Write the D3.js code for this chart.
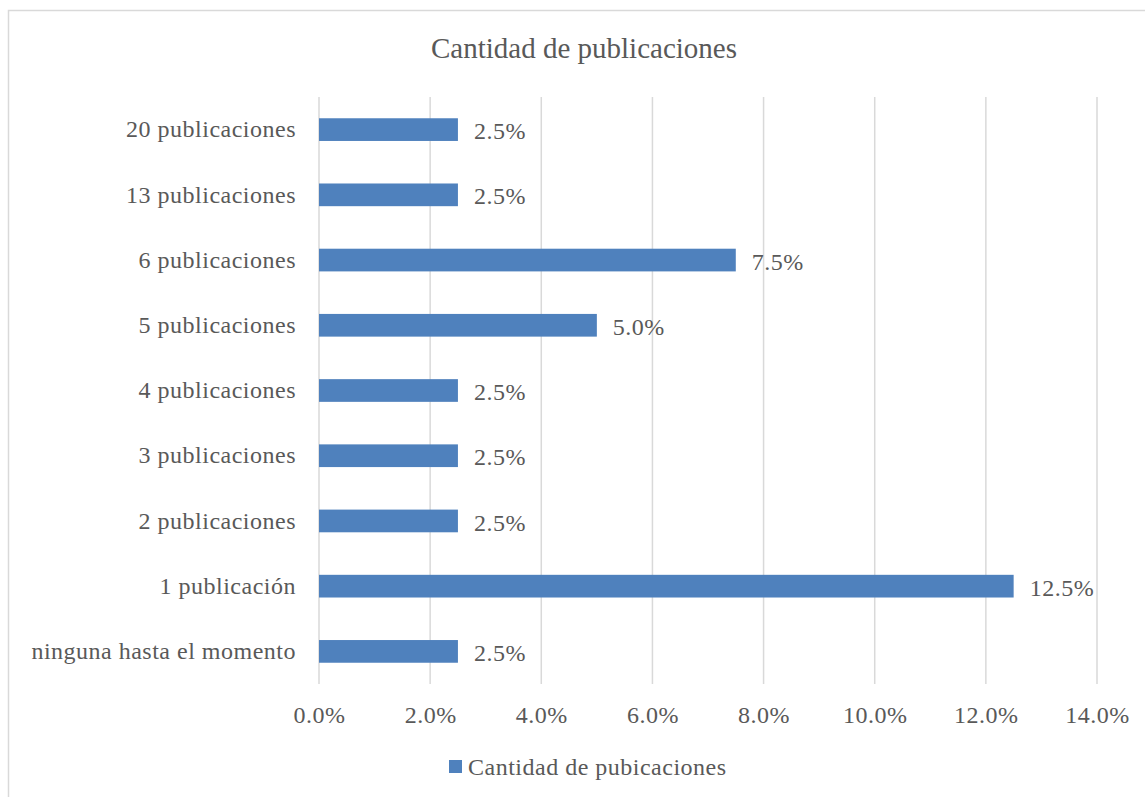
<!DOCTYPE html>
<html>
<head>
<meta charset="utf-8">
<script src="https://cdn.jsdelivr.net/npm/d3@7"></script>
<style>
  body { margin: 0; background: #fff; }
  text { font-family: "Liberation Serif", serif; fill: #595959; }
  .lbl { font-size: 24px; letter-spacing: 0.5px; }
  .grid line { stroke: #d9d9d9; stroke-width: 1.5; }
</style>
</head>
<body>
<script>
//// DATA
var categories = ["20 publicaciones", "13 publicaciones", "6 publicaciones", "5 publicaciones",
                  "4 publicaciones", "3 publicaciones", "2 publicaciones", "1 publicación",
                  "ninguna hasta el momento"];
var values = [2.5, 2.5, 7.5, 5.0, 2.5, 2.5, 2.5, 12.5, 2.5];
var xTicks = [0, 2, 4, 6, 8, 10, 12, 14];
var title = "Cantidad de publicaciones";
var seriesName = "Cantidad de pubicaciones";

//// DIMENSIONS
var W = 1145, H = 797;
var margin = {top: 97, right: 48, bottom: 113, left: 319},
    width = W - margin.left - margin.right,
    height = H - margin.top - margin.bottom;
var barColor = "#4f81bd";

var svg = d3.select("body").append("svg")
    .attr("width", W)
    .attr("height", H);

// chart frame
svg.append("rect")
    .attr("x", 8.5).attr("y", 10.5)
    .attr("width", W).attr("height", H)
    .attr("fill", "none")
    .attr("stroke", "#d9d9d9")
    .attr("stroke-width", 1.5);

// title
svg.append("text")
    .attr("x", 584).attr("y", 58)
    .attr("text-anchor", "middle")
    .style("font-size", "29px")
    .text(title);

var g = svg.append("g")
    .attr("transform", "translate(" + margin.left + "," + margin.top + ")");

// Scales
var xScale = d3.scaleLinear().domain([0, 14]).range([0, width]);
var yScale = d3.scaleBand().domain(categories).range([0, height]).paddingInner(0.652).paddingOuter(0.326);

// Gridlines
g.append("g").attr("class", "grid")
  .selectAll("line").data(xTicks)
  .enter().append("line")
    .attr("x1", function(d) { return xScale(d); })
    .attr("x2", function(d) { return xScale(d); })
    .attr("y1", 0).attr("y2", height);

// x axis labels
var xAxis = d3.axisBottom(xScale)
    .tickValues(xTicks)
    .tickSize(0)
    .tickPadding(22)
    .tickFormat(function(d) { return d.toFixed(1) + "%"; });
g.append("g")
    .attr("transform", "translate(0," + height + ")")
    .call(xAxis)
    .call(function(a) { a.select(".domain").remove(); })
    .selectAll("text")
    .attr("class", "lbl")
    .attr("font-family", null)
    .attr("fill", null);

// y axis labels
var yAxis = d3.axisLeft(yScale).tickSize(0).tickPadding(23);
g.append("g")
    .call(yAxis)
    .call(function(a) { a.select(".domain").remove(); })
    .selectAll("text")
    .attr("class", "lbl")
    .attr("font-family", null)
    .attr("fill", null);

// Bars
g.selectAll(".bar")
    .data(values)
  .enter().append("rect")
    .attr("class", "bar")
    .attr("x", xScale(0))
    .attr("y", function(d, i) { return yScale(categories[i]); })
    .attr("width", function(d) { return xScale(d) - xScale(0); })
    .attr("height", yScale.bandwidth())
    .attr("fill", barColor);

// Value labels
g.selectAll(".val")
    .data(values)
  .enter().append("text")
    .attr("class", "val lbl")
    .attr("x", function(d) { return xScale(d) + 16; })
    .attr("y", function(d, i) { return yScale(categories[i]) + yScale.bandwidth() / 2; })
    .attr("dy", "0.4em")
    .text(function(d) { return d.toFixed(1) + "%"; });

// Legend
var legend = svg.append("g").attr("transform", "translate(449,760)");
legend.append("rect")
    .attr("width", 13).attr("height", 13)
    .attr("fill", barColor);
legend.append("text")
    .attr("class", "lbl")
    .attr("x", 19).attr("y", 6.5)
    .attr("dy", "0.35em")
    .text(seriesName);
</script>
</body>
</html>
